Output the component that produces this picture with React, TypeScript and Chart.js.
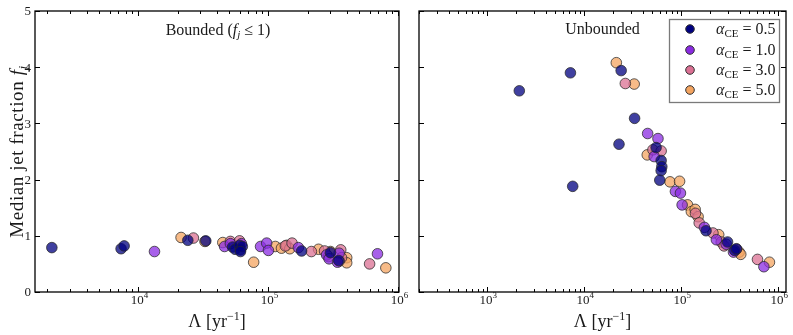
import React, { useEffect, useRef } from 'react';
import { Chart, registerables } from 'chart.js';
Chart.register(...registerables);

// ---- data ----
const alphaLabels = ['0.5', '1.0', '3.0', '5.0'];
const seriesColors = ['#000080', '#8a2be2', '#db7093', '#f4a460'];
const yTickValues = [0, 1, 2, 3, 4, 5];
const xTickExponents = [3, 4, 5, 6];
const boundedXRange = [1603, 1.01e6];
const unboundedXRange = [198, 1.2e6];
const yRange = [0, 5];

const boundedNavy = [[2.16e3, 0.79], [7.36e3, 0.77], [7.77e3, 0.82], [2.4e4, 0.92], [3.3e4, 0.91], [5.3e4, 0.8], [5.55e4, 0.76], [6.0e4, 0.83], [6.1e4, 0.75], [6.3e4, 0.81], [6.1e4, 0.72], [1.8e5, 0.73], [3.47e5, 0.56], [3.0e5, 0.7]];
const boundedPurple = [[1.33e4, 0.72], [4.6e4, 0.81], [5.1e4, 0.86], [6.2e4, 0.86], [8.7e4, 0.81], [9.7e4, 0.87], [1.0e5, 0.74], [1.7e5, 0.79], [2.8e5, 0.66], [2.93e5, 0.59], [3.5e5, 0.69], [3.4e5, 0.53], [6.9e5, 0.68]];
const boundedPink = [[2.65e4, 0.96], [5.1e4, 0.9], [6.0e4, 0.91], [1.35e5, 0.82], [1.52e5, 0.87], [2.14e5, 0.72], [2.7e5, 0.73], [2.9e5, 0.63], [3.6e5, 0.75], [3.65e5, 0.61], [3.5e5, 0.55], [6.0e5, 0.5]];
const boundedOrange = [[2.13e4, 0.97], [3.25e4, 0.9], [4.46e4, 0.88], [7.7e4, 0.53], [1.13e5, 0.81], [1.26e5, 0.78], [1.38e5, 0.83], [1.46e5, 0.77], [2.43e5, 0.76], [3.0e5, 0.72], [4.0e5, 0.61], [4.0e5, 0.52], [8.0e5, 0.43]];

const unboundedNavy = [[2.14e3, 3.58], [7.2e3, 3.9], [7.6e3, 1.88], [2.28e4, 2.63], [2.4e4, 3.94], [3.3e4, 3.09], [5.5e4, 2.57], [6.2e4, 2.34], [6.3e4, 2.23], [6.2e4, 2.16], [6.0e4, 1.99], [1.8e5, 1.09], [3.0e5, 0.89], [3.55e5, 0.74], [3.7e5, 0.77]];
const unboundedPurple = [[4.5e4, 2.82], [5.75e4, 2.73], [5.25e4, 2.41], [8.7e4, 1.79], [9.8e4, 1.76], [1.02e5, 1.55], [1.73e5, 1.15], [2.3e5, 0.93], [2.9e5, 0.85], [3.45e5, 0.71], [7.1e5, 0.45]];
const unboundedPink = [[2.65e4, 3.71], [5.1e4, 2.53], [6.2e4, 2.51], [1.4e5, 1.4], [1.53e5, 1.23], [2.12e5, 1.05], [2.58e5, 0.89], [2.76e5, 0.82], [3.7e5, 0.76], [6.1e5, 0.58]];
const unboundedOrange = [[2.14e4, 4.08], [3.27e4, 3.7], [4.46e4, 2.44], [7.65e4, 1.96], [9.6e4, 1.97], [1.16e5, 1.55], [1.27e5, 1.43], [1.39e5, 1.47], [1.49e5, 1.34], [2.43e5, 1.02], [3.95e5, 0.71], [4.1e5, 0.67], [8.1e5, 0.53]];

const boundedSeries = [boundedNavy, boundedPurple, boundedPink, boundedOrange];
const unboundedSeries = [unboundedNavy, unboundedPurple, unboundedPink, unboundedOrange];

// ---- helpers ----
const SERIF = '"Liberation Serif", "DejaVu Serif", serif';
type Part = { text: string; font: string; dy?: number };

function hexToRgba(hex: string, a: number) {
  const n = parseInt(hex.slice(1), 16);
  return `rgba(${(n >> 16) & 255},${(n >> 8) & 255},${n & 255},${a})`;
}

function drawRich(ctx: CanvasRenderingContext2D, parts: Part[], x: number, y: number, align: 'left' | 'center' | 'right') {
  let total = 0;
  const widths = parts.map((p) => {
    ctx.font = p.font;
    const w = ctx.measureText(p.text).width;
    total += w;
    return w;
  });
  let cx = align === 'center' ? x - total / 2 : align === 'right' ? x - total : x;
  ctx.textAlign = 'left';
  ctx.textBaseline = 'alphabetic';
  parts.forEach((p, i) => {
    ctx.font = p.font;
    ctx.fillText(p.text, cx, y + (p.dy || 0));
    cx += widths[i];
  });
}

function line(ctx: CanvasRenderingContext2D, x1: number, y1: number, x2: number, y2: number) {
  ctx.beginPath();
  ctx.moveTo(x1, y1);
  ctx.lineTo(x2, y2);
  ctx.stroke();
}

function makePanelPlugin(kind: 'bounded' | 'unbounded') {
  return {
    id: 'panelDecor_' + kind,
    afterDraw(chart: any) {
      const ctx: CanvasRenderingContext2D = chart.ctx;
      const a = chart.chartArea;
      const xs = chart.scales.x;
      const ys = chart.scales.y;
      ctx.save();
      ctx.strokeStyle = '#000';
      ctx.lineWidth = 1;
      // x ticks (log, major+minor), top and bottom, inward
      const d0 = Math.floor(Math.log10(xs.min));
      const d1 = Math.ceil(Math.log10(xs.max));
      for (let d = d0; d <= d1; d++) {
        for (let m = 1; m < 10; m++) {
          const v = m * Math.pow(10, d);
          if (v < xs.min || v > xs.max) continue;
          const px = Math.round(xs.getPixelForValue(v)) + 0.5;
          const len = m === 1 ? 5 : 3;
          line(ctx, px, a.bottom, px, a.bottom - len);
          line(ctx, px, a.top, px, a.top + len);
        }
      }
      // y ticks both sides, inward
      yTickValues.forEach((v) => {
        const py = Math.round(ys.getPixelForValue(v)) + 0.5;
        line(ctx, a.left, py, a.left + 5, py);
        line(ctx, a.right, py, a.right - 5, py);
      });
      // frame
      ctx.lineWidth = 1.3;
      ctx.strokeRect(a.left, a.top, a.right - a.left, a.bottom - a.top);

      ctx.fillStyle = '#1a1a1a';
      // x tick labels
      xTickExponents.forEach((e) => {
        const v = Math.pow(10, e);
        if (v < xs.min || v > xs.max * 1.001) return;
        const px = xs.getPixelForValue(v);
        drawRich(ctx, [
          { text: '10', font: `13px ${SERIF}` },
          { text: String(e), font: `9px ${SERIF}`, dy: -6 },
        ], px + 1, 304, 'center');
      });
      const cxMid = (a.left + a.right) / 2;
      // x title
      drawRich(ctx, [
        { text: 'Λ [yr', font: `18px ${SERIF}` },
        { text: '−1', font: `12px ${SERIF}`, dy: -7 },
        { text: ']', font: `18px ${SERIF}` },
      ], cxMid, 327, 'center');

      if (kind === 'bounded') {
        // y tick labels
        yTickValues.forEach((v) => {
          const py = ys.getPixelForValue(v);
          ctx.font = `13px ${SERIF}`;
          ctx.textAlign = 'right';
          ctx.textBaseline = 'middle';
          ctx.fillText(String(v), 31, py + 1);
        });
        // y title
        ctx.save();
        ctx.translate(23, (a.top + a.bottom) / 2);
        ctx.rotate(-Math.PI / 2);
        (ctx as any).letterSpacing = '0.6px';
        drawRich(ctx, [
          { text: 'Median jet fraction ', font: `19px ${SERIF}` },
          { text: 'f', font: `italic 19px ${SERIF}` },
          { text: 'j', font: `italic 13px ${SERIF}`, dy: 4 },
        ], 0, 0, 'center');
        (ctx as any).letterSpacing = '0px';
        ctx.restore();
        // annotation
        drawRich(ctx, [
          { text: 'Bounded (', font: `16px ${SERIF}` },
          { text: 'f', font: `italic 16px ${SERIF}` },
          { text: 'j', font: `italic 11px ${SERIF}`, dy: 3 },
          { text: ' ≤ 1)', font: `16px ${SERIF}` },
        ], cxMid + 1, 35, 'center');
      } else {
        drawRich(ctx, [{ text: 'Unbounded', font: `16px ${SERIF}` }], cxMid, 34, 'center');
        // legend
        const bx = 264, by = 19, bw = 110, bh = 83;
        ctx.fillStyle = '#fff';
        ctx.fillRect(bx, by, bw, bh);
        ctx.strokeStyle = '#7a7a7a';
        ctx.lineWidth = 1.3;
        ctx.strokeRect(bx + 0.5, by + 0.5, bw, bh);
        const rows = [29, 50, 70, 90];
        alphaLabels.forEach((lab, i) => {
          const ry = rows[i];
          ctx.beginPath();
          ctx.arc(285, ry, 4.3, 0, Math.PI * 2);
          ctx.fillStyle = seriesColors[i];
          ctx.fill();
          ctx.strokeStyle = '#333';
          ctx.lineWidth = 1;
          ctx.stroke();
          ctx.fillStyle = '#1a1a1a';
          drawRich(ctx, [
            { text: 'α', font: `italic 16px ${SERIF}` },
            { text: 'CE', font: `11px ${SERIF}`, dy: 3 },
            { text: ' = ' + lab, font: `16px ${SERIF}` },
          ], 311, ry + 5, 'left');
        });
      }
      ctx.restore();
    },
  };
}

function buildDatasets(series: number[][][]) {
  return series.map((pts, i) => ({
    label: 'αCE = ' + alphaLabels[i],
    data: pts.map(([x, y]) => ({ x, y })),
    backgroundColor: hexToRgba(seriesColors[i], 0.75),
    borderColor: 'rgba(40,40,40,0.75)',
    borderWidth: 1,
    pointRadius: 5.3,
    pointHoverRadius: 5.3,
  }));
}

function makeConfig(kind: 'bounded' | 'unbounded') {
  const isB = kind === 'bounded';
  const range = isB ? boundedXRange : unboundedXRange;
  return {
    type: 'scatter' as const,
    data: { datasets: buildDatasets(isB ? boundedSeries : unboundedSeries) },
    options: {
      animation: false as const,
      responsive: false,
      events: [] as any[],
      layout: { padding: isB ? { left: 35, right: 21, top: 11, bottom: 43 } : { left: 14, right: 7, top: 11, bottom: 43 } },
      plugins: { legend: { display: false }, tooltip: { enabled: false } },
      scales: {
        x: { type: 'logarithmic' as const, display: false, min: range[0], max: range[1] },
        y: { type: 'linear' as const, display: false, min: yRange[0], max: yRange[1] },
      },
    },
    plugins: [makePanelPlugin(kind)],
  };
}

export default function App() {
  const leftRef = useRef<HTMLCanvasElement>(null);
  const rightRef = useRef<HTMLCanvasElement>(null);
  useEffect(() => {
    const c1 = new Chart(leftRef.current!, makeConfig('bounded') as any);
    const c2 = new Chart(rightRef.current!, makeConfig('unbounded') as any);
    return () => {
      c1.destroy();
      c2.destroy();
    };
  }, []);
  return (
    <div style={{ position: 'absolute', left: 0, top: 0, width: 793, height: 335, background: '#fff', overflow: 'hidden' }}>
      <canvas ref={leftRef} width={420} height={335} style={{ position: 'absolute', left: 0, top: 0, width: 420, height: 335 }} />
      <canvas ref={rightRef} width={388} height={335} style={{ position: 'absolute', left: 405, top: 0, width: 388, height: 335 }} />
    </div>
  );
}
